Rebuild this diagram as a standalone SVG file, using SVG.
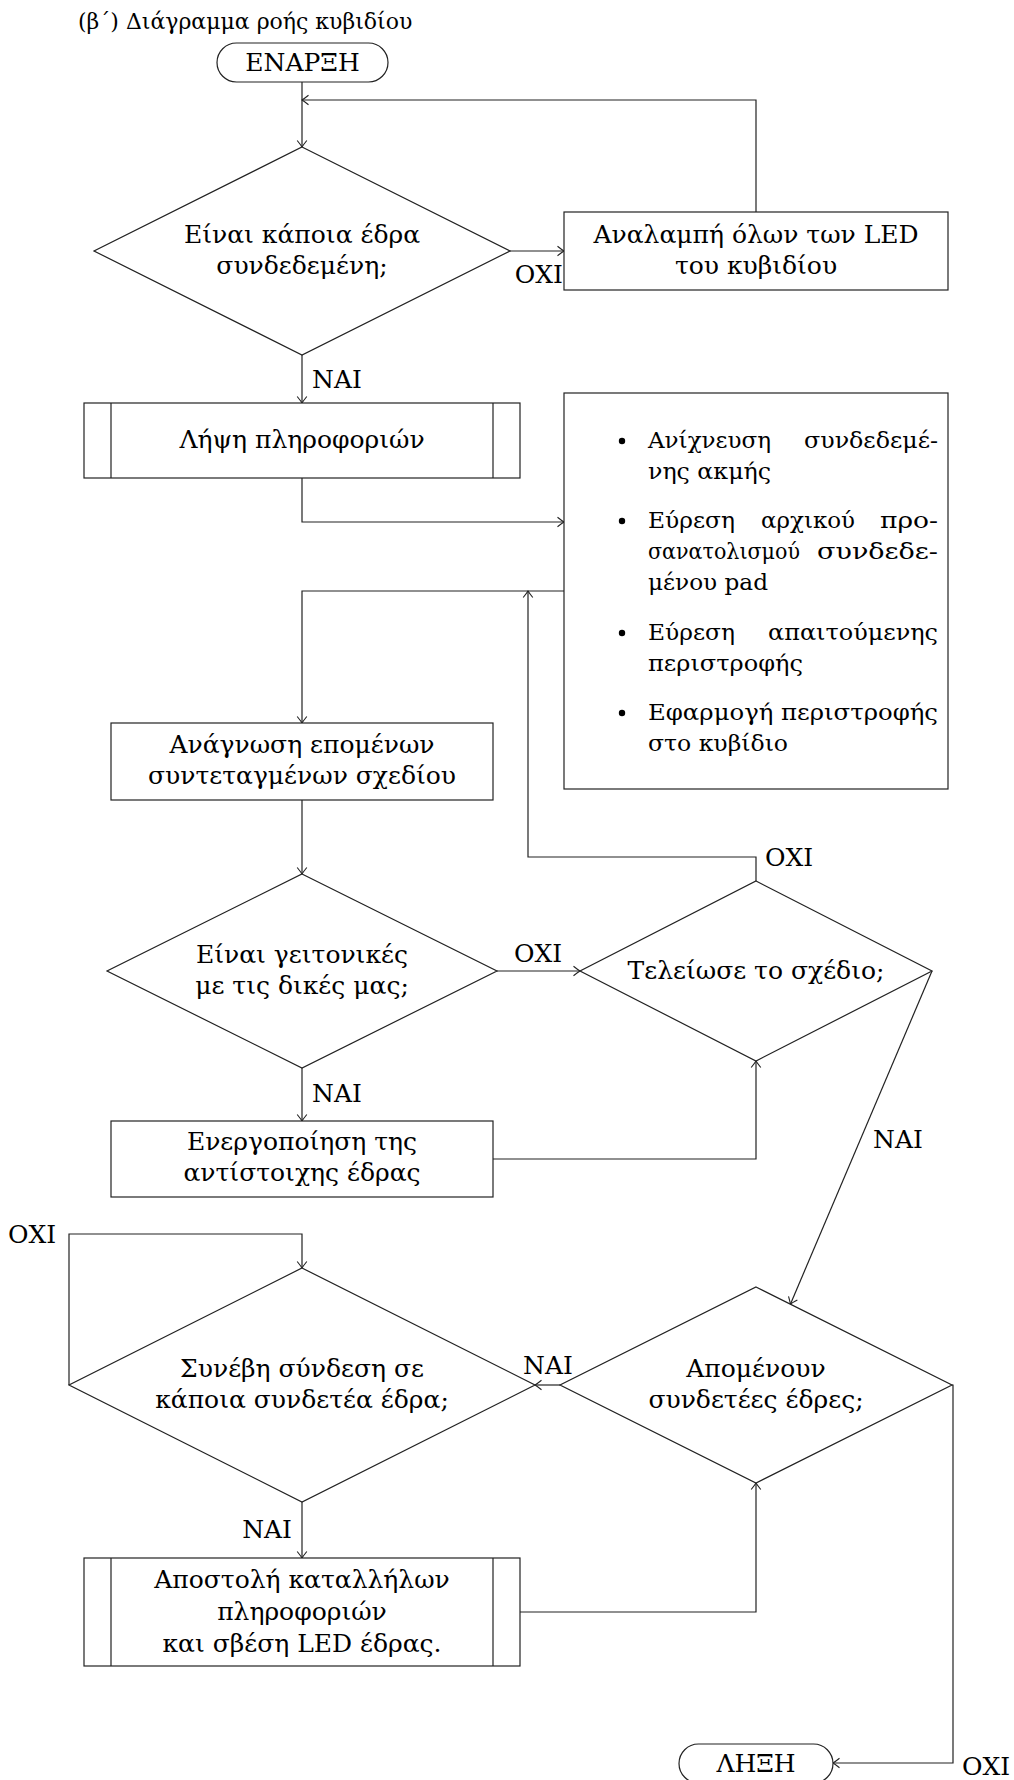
<svg xmlns="http://www.w3.org/2000/svg" width="1014" height="1780" viewBox="0 0 1014 1780">
<style>
  .t { font-family: "DejaVu Serif", "Liberation Serif", serif; font-size: 25px; fill: #000; }
  .b { font-size: 23px; }
  .c { text-anchor: middle; }
  .e { text-anchor: end; }
  .s { fill: #fff; stroke: #222; stroke-width: 1.2; }
  .ln { fill: none; stroke: #222; stroke-width: 1.2; }
  .cn { fill: none; stroke: #222; stroke-width: 1.2; marker-end: url(#ah); }
</style>
<defs>
  <marker id="ah" viewBox="-8 -6 9 12" refX="0" refY="0" markerWidth="9" markerHeight="12" markerUnits="userSpaceOnUse" orient="auto">
    <path d="M-6.5,-4.8 Q-2,-1.2 0,0 Q-2,1.2 -6.5,4.8" fill="none" stroke="#222" stroke-width="1.1"/>
  </marker>
</defs>
<rect width="1014" height="1780" fill="#fff"/>

<text class="t" x="78" y="29" style="font-size:22px">(β´) Διάγραμμα ροής κυβιδίου</text>

<g id="connectors">
  <path class="cn" d="M302,82 V147"/>
  <path class="cn" d="M756,212 V100 H302"/>
  <path class="cn" d="M510,251 H564"/>
  <path class="cn" d="M302,355 V403"/>
  <path class="cn" d="M302,478 V522 H564"/>
  <path class="cn" d="M564,591 H302 V723"/>
  <path class="cn" d="M302,800 V874"/>
  <path class="cn" d="M497,971 H580"/>
  <path class="cn" d="M756,881 V857 H528 V591"/>
  <path class="cn" d="M302,1068 V1121"/>
  <path class="cn" d="M493,1159 H756 V1061"/>
  <path class="cn" d="M932,971 L790.4,1304.2"/>
  <path class="cn" d="M560,1385 H535"/>
  <path class="cn" d="M69,1385 V1234 H302 V1268"/>
  <path class="cn" d="M302,1502 V1558"/>
  <path class="cn" d="M520,1612 H756 V1483"/>
  <path class="cn" d="M952,1385 H953 V1763 H833"/>
  <text class="t e" x="563" y="283">ΟΧΙ</text>
  <text class="t" x="312" y="388">ΝΑΙ</text>
  <text class="t" x="514" y="962">ΟΧΙ</text>
  <text class="t" x="765" y="866">ΟΧΙ</text>
  <text class="t" x="312" y="1102">ΝΑΙ</text>
  <text class="t" x="873" y="1148">ΝΑΙ</text>
  <text class="t" x="523" y="1374">ΝΑΙ</text>
  <text class="t" x="8" y="1243">ΟΧΙ</text>
  <text class="t e" x="292" y="1538">ΝΑΙ</text>
  <text class="t" x="962" y="1775">ΟΧΙ</text>
</g>

<g id="start">
  <rect class="s" x="217" y="43" width="171" height="39" rx="19.5" ry="19.5"/>
  <text class="t c" x="302.5" y="71">ΕΝΑΡΞΗ</text>
</g>

<g id="d1">
  <polygon class="s" points="302,147 510,251 302,355 94,251"/>
  <text class="t c" x="302" y="243">Είναι κάποια έδρα</text>
  <text class="t c" x="302" y="274">συνδεδεμένη;</text>
</g>

<g id="led">
  <rect class="s" x="564" y="212" width="384" height="78"/>
  <text class="t c" x="756" y="243">Αναλαμπή όλων των LED</text>
  <text class="t c" x="756" y="274">του κυβιδίου</text>
</g>

<g id="lipsi">
  <rect class="s" x="84" y="403" width="436" height="75"/>
  <path class="ln" d="M111,403 V478 M493,403 V478"/>
  <text class="t c" x="302" y="448">Λήψη πληροφοριών</text>
</g>

<g id="bullets">
  <rect class="s" x="564" y="393" width="384" height="396"/>
  <circle cx="622" cy="441" r="3.2" fill="#000"/>
  <circle cx="622" cy="521" r="3.2" fill="#000"/>
  <circle cx="622" cy="633" r="3.2" fill="#000"/>
  <circle cx="622" cy="713" r="3.2" fill="#000"/>
  <text class="t b" x="648" y="448" textLength="123" lengthAdjust="spacingAndGlyphs">Ανίχνευση</text>
  <text class="t b" x="804" y="448" textLength="134" lengthAdjust="spacingAndGlyphs">συνδεδεμέ-</text>
  <text class="t b" x="648" y="479" textLength="123" lengthAdjust="spacingAndGlyphs">νης ακμής</text>
  <text class="t b" x="648" y="528" textLength="87" lengthAdjust="spacingAndGlyphs">Εύρεση</text>
  <text class="t b" x="761" y="528" textLength="94" lengthAdjust="spacingAndGlyphs">αρχικού</text>
  <text class="t b" x="880" y="528" textLength="58" lengthAdjust="spacingAndGlyphs">προ-</text>
  <text class="t b" x="648" y="559" textLength="152" lengthAdjust="spacingAndGlyphs">σανατολισμού</text>
  <text class="t b" x="817" y="559" textLength="121" lengthAdjust="spacingAndGlyphs">συνδεδε-</text>
  <text class="t b" x="648" y="590" textLength="120" lengthAdjust="spacingAndGlyphs">μένου pad</text>
  <text class="t b" x="648" y="640" textLength="87" lengthAdjust="spacingAndGlyphs">Εύρεση</text>
  <text class="t b" x="768" y="640" textLength="170" lengthAdjust="spacingAndGlyphs">απαιτούμενης</text>
  <text class="t b" x="648" y="671" textLength="155" lengthAdjust="spacingAndGlyphs">περιστροφής</text>
  <text class="t b" x="648" y="720" textLength="290" lengthAdjust="spacingAndGlyphs">Εφαρμογή περιστροφής</text>
  <text class="t b" x="648" y="751" textLength="140" lengthAdjust="spacingAndGlyphs">στο κυβίδιο</text>
</g>

<g id="anagnosi">
  <rect class="s" x="111" y="723" width="382" height="77"/>
  <text class="t c" x="302" y="753">Ανάγνωση επομένων</text>
  <text class="t c" x="302" y="784">συντεταγμένων σχεδίου</text>
</g>

<g id="d2">
  <polygon class="s" points="302,874 497,971 302,1068 107,971"/>
  <text class="t c" x="302" y="963">Είναι γειτονικές</text>
  <text class="t c" x="302" y="994">με τις δικές μας;</text>
</g>

<g id="d3">
  <polygon class="s" points="756,881 932,971 756,1061 580,971"/>
  <text class="t c" x="756" y="979">Τελείωσε το σχέδιο;</text>
</g>

<g id="energ">
  <rect class="s" x="111" y="1121" width="382" height="76"/>
  <text class="t c" x="302" y="1150">Ενεργοποίηση της</text>
  <text class="t c" x="302" y="1181">αντίστοιχης έδρας</text>
</g>

<g id="d4">
  <polygon class="s" points="756,1287 952,1385 756,1483 560,1385"/>
  <text class="t c" x="756" y="1377">Απομένουν</text>
  <text class="t c" x="756" y="1408">συνδετέες έδρες;</text>
</g>

<g id="d5">
  <polygon class="s" points="302,1268 535,1385 302,1502 69,1385"/>
  <text class="t c" x="302" y="1377">Συνέβη σύνδεση σε</text>
  <text class="t c" x="302" y="1408">κάποια συνδετέα έδρα;</text>
</g>

<g id="apostoli">
  <rect class="s" x="84" y="1558" width="436" height="108"/>
  <path class="ln" d="M111,1558 V1666 M493,1558 V1666"/>
  <text class="t c" x="302" y="1588">Αποστολή καταλλήλων</text>
  <text class="t c" x="302" y="1620">πληροφοριών</text>
  <text class="t c" x="302" y="1652">και σβέση LED έδρας.</text>
</g>

<g id="end">
  <rect class="s" x="679" y="1744" width="154" height="39" rx="19.5" ry="19.5"/>
  <text class="t c" x="756" y="1772">ΛΗΞΗ</text>
</g>
</svg>
